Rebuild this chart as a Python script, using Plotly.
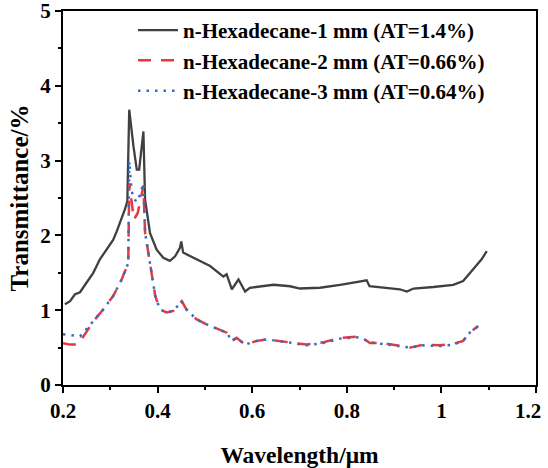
import plotly.graph_objects as go

# Series 1: n-Hexadecane-1 mm
x1 = [0.204, 0.215, 0.225, 0.236, 0.25, 0.264, 0.278, 0.293, 0.306, 0.314, 0.324, 0.331, 0.336,
      0.340, 0.349, 0.356, 0.361, 0.366, 0.370, 0.3735, 0.384, 0.398, 0.412, 0.426, 0.437,
      0.447, 0.450, 0.454, 0.482, 0.511, 0.539, 0.546, 0.557, 0.571, 0.585, 0.595, 0.645,
      0.680, 0.701, 0.743, 0.786, 0.821, 0.842, 0.848, 0.884, 0.912, 0.927, 0.941, 0.983,
      1.025, 1.046, 1.067, 1.085, 1.096]
y1 = [1.08, 1.12, 1.21, 1.24, 1.37, 1.50, 1.68, 1.82, 1.94, 2.06, 2.22, 2.35, 2.46,
      3.68, 3.19, 2.88, 2.88, 3.15, 3.39, 2.48, 2.03, 1.81, 1.70, 1.66, 1.72,
      1.83, 1.92, 1.77, 1.68, 1.59, 1.45, 1.48, 1.28, 1.41, 1.25, 1.30, 1.34,
      1.32, 1.29, 1.30, 1.34, 1.38, 1.40, 1.32, 1.30, 1.28, 1.25, 1.29, 1.31,
      1.34, 1.39, 1.54, 1.68, 1.79]

# Series 2: n-Hexadecane-2 mm
x2 = [0.200, 0.215, 0.232, 0.243, 0.264, 0.285, 0.306, 0.324, 0.338, 0.340, 0.345, 0.350,
      0.358, 0.366, 0.370, 0.3735, 0.384, 0.395, 0.405, 0.419, 0.433, 0.451, 0.461, 0.482,
      0.504, 0.525, 0.546, 0.557, 0.567, 0.585, 0.610, 0.631, 0.659, 0.687, 0.715, 0.750,
      0.786, 0.828, 0.849, 0.877, 0.905, 0.934, 0.962, 0.997, 1.025, 1.046, 1.060, 1.078]
y2 = [0.56, 0.54, 0.54, 0.65, 0.85, 1.01, 1.19, 1.41, 1.63, 2.70, 2.45, 2.21,
      2.30, 2.55, 2.66, 2.04, 1.63, 1.19, 1.01, 0.97, 0.99, 1.12, 1.01, 0.88,
      0.81, 0.76, 0.70, 0.59, 0.63, 0.54, 0.59, 0.61, 0.59, 0.56, 0.54, 0.57,
      0.63, 0.65, 0.56, 0.56, 0.53, 0.50, 0.54, 0.53, 0.55, 0.59, 0.70, 0.79]

# Series 3: n-Hexadecane-3 mm
x3 = [0.200, 0.215, 0.236, 0.250, 0.264, 0.285, 0.306, 0.324, 0.338, 0.340, 0.345, 0.350,
      0.358, 0.366, 0.370, 0.3735, 0.384, 0.395, 0.405, 0.419, 0.433, 0.451, 0.461, 0.482,
      0.504, 0.525, 0.546, 0.557, 0.567, 0.585, 0.610, 0.631, 0.659, 0.687, 0.715, 0.750,
      0.786, 0.828, 0.849, 0.877, 0.905, 0.934, 0.962, 0.997, 1.025, 1.046, 1.060, 1.078]
y3 = [0.68, 0.67, 0.65, 0.75, 0.85, 1.01, 1.19, 1.41, 1.63, 2.99, 2.60, 2.48,
      2.45, 2.60, 2.70, 2.04, 1.63, 1.19, 1.01, 0.97, 0.99, 1.12, 1.01, 0.88,
      0.81, 0.76, 0.70, 0.59, 0.63, 0.54, 0.59, 0.61, 0.59, 0.56, 0.53, 0.56,
      0.62, 0.64, 0.57, 0.55, 0.52, 0.50, 0.53, 0.52, 0.54, 0.59, 0.70, 0.79]

names = ["<b>n-Hexadecane-1 mm (AT=1.4%)</b>", "<b>n-Hexadecane-2 mm (AT=0.66%)</b>",
         "<b>n-Hexadecane-3 mm (AT=0.64%)</b>"]

x_ticks = [0.2, 0.4, 0.6, 0.8, 1.0, 1.2]
x_ticklabels = ["0.2", "0.4", "0.6", "0.8", "1", "1.2"]
y_ticks = [0, 1, 2, 3, 4, 5]
y_ticklabels = ["0", "1", "2", "3", "4", "5"]

FONT = "Liberation Serif"
NBSP = "\u00a0"

x_ticktext = ["<b>%s</b>" % t for t in x_ticklabels]
x_ticktext[-1] = x_ticktext[-1] + NBSP * 3  # keep last label inside the page

fig = go.Figure()
fig.add_trace(go.Scatter(x=x1, y=y1, mode="lines", name=names[0],
                         line=dict(color="#404040", width=2.3)))
fig.add_trace(go.Scatter(x=x2, y=y2, mode="lines", name=names[1],
                         line=dict(color="#e8383d", width=2.5, dash="13px,10px")))
fig.add_trace(go.Scatter(x=x3, y=y3, mode="lines", name=names[2],
                         line=dict(color="#2f6fc4", width=2.5, dash="2.5px,6px")))

axis_common = dict(
    showline=True, linecolor="black", linewidth=2, mirror=True,
    ticks="outside", ticklen=6, tickwidth=1.5, tickcolor="black",
    showgrid=False, zeroline=False, automargin=False,
    ticklabeloverflow="allow",
    tickfont=dict(family=FONT, size=21, color="black"),
)

fig.update_layout(
    width=548, height=468,
    margin=dict(l=63, r=12, t=11, b=83, autoexpand=False),
    plot_bgcolor="white", paper_bgcolor="white",
    font=dict(family=FONT, color="black"),
    xaxis=dict(range=[0.2, 1.2], tickvals=x_ticks, ticktext=x_ticktext,
               minor=dict(ticks="outside", dtick=0.1, ticklen=3, tickcolor="black"),
               title=dict(text="<b>Wavelength/μm</b>", standoff=26,
                          font=dict(family=FONT, size=23.5, color="black")),
               **axis_common),
    yaxis=dict(range=[0, 5], tickvals=y_ticks,
               ticktext=["<b>%s</b>" % t for t in y_ticklabels],
               minor=dict(ticks="outside", dtick=0.5, ticklen=3, tickcolor="black"),
               title=dict(text="<b>Transmittance/%</b>", standoff=5,
                          font=dict(family=FONT, size=25, color="black")),
               **axis_common),
    legend=dict(x=0.148, y=1.003, xanchor="left", yanchor="top",
                bgcolor="rgba(0,0,0,0)", borderwidth=0,
                font=dict(family=FONT, size=21, color="black"),
                tracegroupgap=0, itemwidth=40),
    showlegend=True,
)

fig.write_html("out.html")
